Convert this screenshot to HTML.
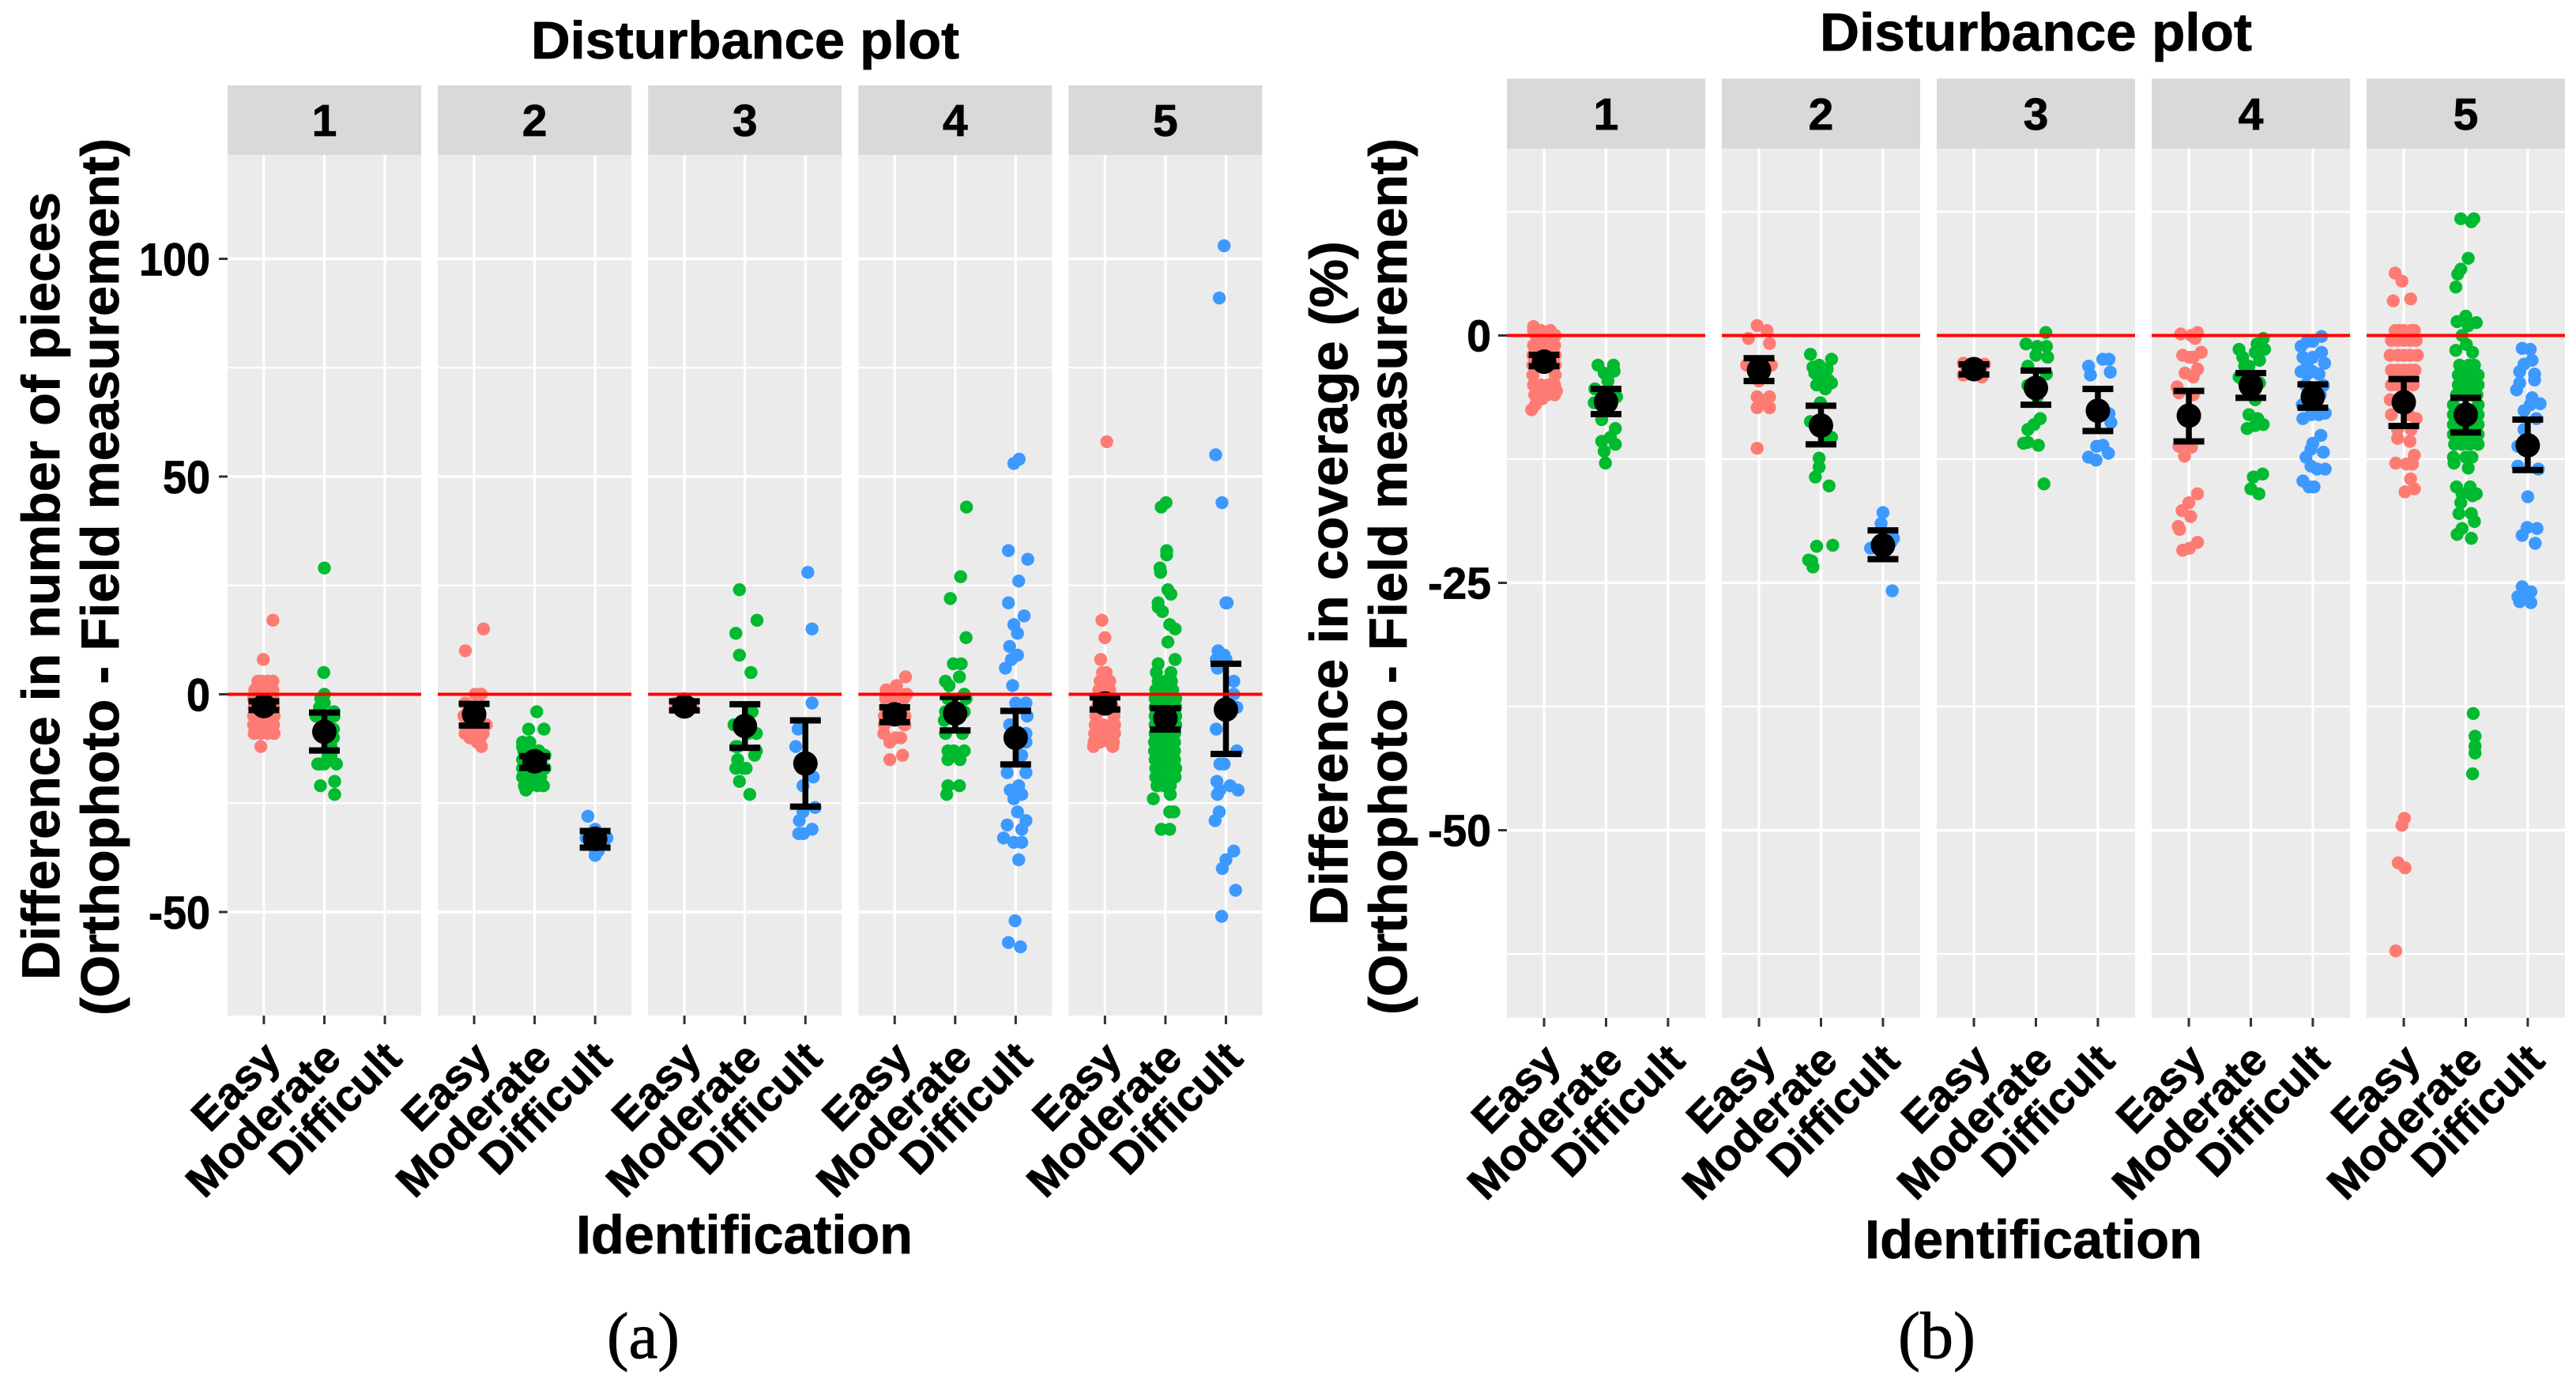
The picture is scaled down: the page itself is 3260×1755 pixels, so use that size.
<!DOCTYPE html>
<html lang="en">
<head>
<meta charset="utf-8">
<title>Disturbance plot comparison</title>
<style>
html,body{margin:0;padding:0;background:#fff;width:3260px;height:1755px;overflow:hidden}
svg{display:block}
text{font-family:"Liberation Sans",Arial,sans-serif;font-weight:bold;fill:#000;stroke:#000;stroke-width:.8px}
.serif{font-family:"Liberation Serif","Times New Roman",serif;font-weight:normal;stroke-width:.9px}
</style>
</head>
<body>
<svg id="figure" xmlns="http://www.w3.org/2000/svg" width="3260" height="1755" viewBox="0 0 3260 1755">
  <rect x="0" y="0" width="3260" height="1755" fill="#fff"/>
  <text x="672" y="74" font-size="67" textLength="542" lengthAdjust="spacingAndGlyphs">Disturbance plot</text>
  <text x="2303" y="64" font-size="68" textLength="547" lengthAdjust="spacingAndGlyphs">Disturbance plot</text>
  <text transform="translate(75,1240) rotate(-90)" font-size="68" textLength="997" lengthAdjust="spacingAndGlyphs">Difference in number of pieces</text>
  <text transform="translate(150,1285) rotate(-90)" font-size="68" textLength="1110" lengthAdjust="spacingAndGlyphs">(Orthophoto - Field measurement)</text>
  <text transform="translate(1705,1171) rotate(-90)" font-size="68" textLength="866" lengthAdjust="spacingAndGlyphs">Difference in coverage (%)</text>
  <text transform="translate(1780,1284) rotate(-90)" font-size="68" textLength="1109" lengthAdjust="spacingAndGlyphs">(Orthophoto - Field measurement)</text>
  <text x="729" y="1586" font-size="69" textLength="426" lengthAdjust="spacingAndGlyphs">Identification</text>
  <text x="2360" y="1592" font-size="69" textLength="427" lengthAdjust="spacingAndGlyphs">Identification</text>
  <text class="serif" x="768" y="1718" font-size="83" textLength="92" lengthAdjust="spacingAndGlyphs">(a)</text>
  <text class="serif" x="2402" y="1718" font-size="84" textLength="98" lengthAdjust="spacingAndGlyphs">(b)</text>
</svg>
<script>
// Shared labels
const categories=["Easy","Moderate","Difficult"];
const panelLabels=["1","2","3","4","5"];
const categoryColors=["#FE7B73","#00BA2F","#3C99FF"];

// Chart (a) axis ticks
const aTickLabels=["100","50","0","-50"];
const aMajorTicks=[100,50,0,-50];
const aMinorTicks=[75,25,-25];

// Chart (a) summaries per panel: Easy, Moderate, Difficult
const aMean=[[-2.7,-8.6,null],[-4.6,-15.4,-33.2],[-2.8,-7.3,-15.9],[-4.6,-4.4,-10],[-2.1,-5.5,-3.5]];
const aLow=[[-3.6,-12.9,null],[-7.2,-16.9,-35.2],[-3.7,-12.3,-25.8],[-6.4,-8.3,-16.1],[-3.5,-8.1,-13.7]];
const aHigh=[[-1.6,-4.2,null],[-2.2,-14.2,-31.4],[-1.6,-2.3,-6],[-3,-.6,-3.8],[-.7,-3.2,7]];

// Chart (a) points: values and horizontal jitter (category units)
const a1EasyY=[17,8,-12,3,3,3,3,1,1,1,1,-1,-1,-1,-1,-3,-3,-3,-3,-5,-5,-5,-5,-7,-7,-7,-7,-9,-9,-9,-9];
const a1EasyJ=[.15,-.01,-.05,-.1,-.03,.07,.15,-.15,-.05,.05,.15,-.17,-.06,.04,.15,-.16,-.05,.06,.16,-.17,-.05,.05,.17,-.17,-.06,.05,.16,-.16,-.05,.06,.17];
const a1ModY=[29,5,0,-1,-2,-4,-5,-5,-8,-10,-12,-14,-16,-16,-16,-21,-20,-23,-14,-16,-8,-11,-3,-6];
const a1ModJ=[0,-.01,0,-.06,0,.16,-.14,.16,.15,.15,.11,.11,-.065,0,.2,-.065,.17,.17,.06,-.11,.05,.08,-.08,0];
const a1DifY=[];
const a1DifJ=[];
const a2EasyY=[15,10,0,-2,0,-5,-7,-7,-10,-10,-12,-11,-9,-9,-9];
const a2EasyJ=[.155,-.145,.015,-.15,.12,-.17,.2,-.12,-.07,.1,.12,.05,0,.15,-.15];
const a2ModY=[-4,-8,-8,-11,-11,-13,-12,-14,-13,-13,-15,-15,-15,-15,-17,-17,-17,-17,-17,-19,-19,-19,-19,-21,-21,-21,-21,-22];
const a2ModJ=[.035,-.1,.155,-.2,-.08,.07,-.2,.17,-.18,-.07,-.2,-.1,0,.1,-.2,-.1,0,.1,.17,-.2,-.1,0,.1,-.17,-.07,.05,.145,-.145];
const a2DifY=[-28,-31,-33,-33,-33,-34,-37,-36,-35];
const a2DifJ=[-.12,0,-.15,.195,-.08,.12,0,.05,-.03];
const a3EasyY=[-2,-3,-2,-3,-1,-2];
const a3EasyJ=[-.14,.13,0,-.14,0,.1];
const a3ModY=[24,17,14,9,5,-4,-7,-9,-12,-13,-14,-15,-17,-17,-17,-20,-23,-7,-9,-12];
const a3ModJ=[-.09,.2,-.15,-.09,.1,.12,-.12,.19,-.15,.19,.16,-.12,-.15,.02,-.03,-.09,.08,-.18,.05,-.12];
const a3DifY=[28,15,-2,-8,-12,-15,-19,-21,-26,-27,-29,-31,-32,-32];
const a3DifJ=[.04,.11,.11,-.12,-.16,.06,.13,-.04,.16,-.04,-.1,.11,-.11,-.035];
const a4EasyY=[4,2,1,0,0,0,0,-1,-1,-1,-3,-3,-5,-5,-7,-7,-7,-9,-10,-11,-14,-15,-10];
const a4EasyJ=[.18,.03,-.14,.1,.2,-.14,0,-.15,-.05,.15,-.15,.13,-.17,.17,-.17,.17,.16,-.18,.1,-.08,.13,-.08,.01];
const a4ModY=[43,27,22,13,7,7,4,3,2,0,-1,-1,-4,-6,-4,-9,-9,-13,-13,-13,-15,-15,-14,-21,-21,-23];
const a4ModJ=[.187,.09,-.08,.18,-.03,.1,.07,-.16,-.1,.15,-.12,.18,-.16,-.18,.15,-.16,.12,-.12,-.02,.15,-.12,.08,-.02,-.12,.07,-.14];
const a4DifY=[54,53,33,31,26,21,18,16,14,11,9,8,6,2,-2,-2,-5,-7,-9,-11,-14,-18,-18,-21,-22,-23,-24,-27,-29,-30,-31,-33,-34,-34,-38,-52,-57,-58];
const a4DifJ=[.057,-.03,-.12,.2,.05,-.12,.14,-.03,.03,-.1,.03,-.07,-.17,-.05,0,.17,.19,-.1,.17,.17,.1,-.14,.17,.05,-.09,.1,-.03,.03,.17,-.14,.1,-.2,-.03,.1,.05,-.01,-.12,.08];
const a5EasyY=[58,17,13,8,5,5,3,3,3,1,1,1,-1,-1,-1,-3,-3,-5,-5,-7,-7,-7,-7,-9,-9,-9,-9,-11,-11,-11,-11,-12,-12];
const a5EasyJ=[.03,-.05,0,-.07,-.04,.02,-.08,.03,.08,-.1,-.02,.08,-.12,-.03,.1,-.13,.13,-.15,.15,-.16,-.03,.1,.16,-.17,-.06,.05,.16,-.18,-.08,.08,.14,-.19,.13];
const a5ModY=[44,43,33,29,32,28,24,23,21,20,19,16,15,12,8,7,5,5,3,3,3,1,1,1,1,-1,-1,-1,-1,-3,-3,-3,-3,-5,-5,-5,-5,-7,-7,-7,-7,-9,-9,-9,-9,-11,-11,-11,-11,-13,-13,-13,-13,-15,-15,-15,-15,-17,-17,-17,-17,-19,-19,-19,-19,-21,-21,-21,-23,-24,-27,-27,-31,-31];
const a5ModJ=[.01,-.07,.02,-.09,.02,-.08,.04,.09,-.12,-.12,-.05,.07,.16,.04,.16,-.12,-.15,.09,-.12,0,.1,-.16,-.05,.05,.12,-.17,-.06,.06,.17,-.17,-.06,.06,.17,-.17,-.05,.05,.17,-.17,-.05,.05,.17,-.17,-.05,.05,.15,-.18,-.06,.05,.15,-.18,-.06,.05,.15,-.17,-.05,.05,.15,-.16,-.05,.05,.17,-.16,-.05,.05,.16,-.14,-.03,.08,.08,-.2,.07,.14,-.07,.07];
const a5DifY=[103,91,55,44,21,21,10,9,8,8,6,3,0,-3,-8,-13,-16,-16,-20,-22,-21,-22,-23,-27,-29,-36,-38,-40,-45,-51];
const a5DifJ=[-.03,-.11,-.17,-.065,0,.02,-.13,-.03,-.16,0,-.14,.13,.13,.18,-.16,.18,-.1,-.03,-.15,-.1,.07,.2,-.14,-.11,-.18,.13,0,-.06,.16,-.07];

// Chart (b) axis ticks
const bTickLabels=["0","-25","-50"];
const bMajorTicks=[0,-25,-50];
const bMinorTicks=[12.5,-12.5,-37.5,-62.5];

// Chart (b) summaries per panel
const bMean=[[-2.65,-6.7,null],[-3.5,-9.1,-21.2],[-3.4,-5.3,-7.6],[-8.1,-5.05,-6.2],[-6.75,-8,-11.1]];
const bLow=[[-3.1,-7.95,null],[-4.6,-11,-22.6],[-3.93,-7,-9.65],[-10.7,-6.3,-7.3],[-9.15,-9.8,-13.6]];
const bHigh=[[-1.96,-5.4,null],[-2.3,-7.1,-19.7],[-2.92,-3.54,-5.4],[-5.6,-3.8,-4.94],[-4.4,-6.3,-8.5]];

// Chart (b) points
const b1EasyY=[.9,.5,.5,.5,0,0,0,0,-1,-1,-1,-1,-2,-2,-3,-3,-4,-4,-5,-5,-5,-5,-6,-6,-6,-6,-7.5,-6.4,-5.6,-7,-2,-3];
const b1EasyJ=[-.17,-.17,-.05,.1,-.13,0,.1,.18,-.17,-.07,.05,.17,-.18,.18,-.18,.18,-.18,.18,-.17,-.05,.07,.17,-.15,-.05,.05,.17,-.2,-.03,.2,-.14,-.06,.07];
const b1ModY=[-3,-3,-3.8,-3.6,-4.6,-5.4,-6.2,-6.8,-8.5,-9.4,-10.3,-10.7,-11,-11.7,-12.9,-6.8,-7.6];
const b1ModJ=[-.13,.12,-.03,.13,.03,-.18,.17,-.19,-.07,.15,.07,-.07,.15,-.03,-.01,.03,-.03];
const b1DifY=[];
const b1DifJ=[];
const b2EasyY=[1,.5,-.3,-.8,-3,-3,-4.6,-6.2,-6.2,-7.3,-7.3,-6.6,-11.4];
const b2EasyJ=[-.03,.13,-.17,.17,-.2,.2,0,-.03,.17,-.03,.17,.07,-.03];
const b2ModY=[-1.9,-2.4,-3.2,-3,-3.4,-4.2,-3.8,-4.8,-5.4,-6.8,-8.7,-10.3,-10.6,-12.4,-13.3,-14.3,-15.2,-21.3,-21.2,-22.7,-23.4,-22.8,-5,-4.5];
const b2ModJ=[-.17,.17,-.13,-.03,.1,0,-.1,.17,.07,-.01,-.17,.17,.07,-.03,-.03,-.09,.13,-.07,.19,-.2,-.13,-.15,-.07,.12];
const b2DifY=[-17.9,-19,-20.5,-21.5,-21.3,-21.5,-25.8,-20.9];
const b2DifJ=[0,-.03,.17,-.2,-.13,0,.15,.13];
const b3EasyY=[-2.8,-4,-2.9,-4.2,-3.3];
const b3EasyJ=[-.17,-.17,.17,.13,0];
const b3ModY=[.3,-.85,-1.1,-1.1,-2,-2.2,-3.1,-3.9,-5.05,-6.2,-8.4,-9,-9.5,-10.9,-10.8,-11.1,-15];
const b3ModJ=[.16,-.16,.02,.17,0,.19,-.13,.17,-.13,.02,.07,-.03,-.13,-.2,-.13,.04,.13];
const b3DifY=[-3.1,-2.4,-2.4,-4,-3.7,-7.9,-8.8,-11.1,-11.2,-11.9,-12.3,-12.6];
const b3DifJ=[-.15,.08,.18,-.12,.2,.18,.21,.08,-.02,.17,-.15,-.03];
const b4EasyY=[.15,0,.3,-.3,-2,-2.2,-1.7,-2.2,-3.4,-3.8,-4.2,-5.2,-5.8,-6,-11.2,-11.3,-12.2,-16,-16.9,-17.7,-18.3,-19.3,-19.6,-20.9,-21.5,-21.7];
const b4EasyJ=[-.13,.04,.14,.1,-.1,.07,.2,.01,.14,-.06,.07,-.19,-.16,.07,-.16,.04,-.07,.14,0,-.11,.03,-.17,-.15,.14,.01,-.1];
const b4ModY=[-.3,-.85,-1.4,-1.4,-1.7,-2.2,-2.5,-3.1,-3.1,-4.2,-4.8,-4.5,-6.5,-8,-8.4,-9,-9.1,-9.4,-14,-14.3,-15.5,-16];
const b4ModJ=[.2,.1,-.19,.22,.07,-.13,.14,-.03,-.1,-.19,.14,-.13,.07,-.03,.11,.2,.07,-.06,.19,.04,0,.13];
const b4DifY=[-.1,-1.1,-.6,-.6,-1.7,-2.8,-2.2,-2.8,-2.2,-3.65,-3.9,-3.65,-3.9,-5.05,-8.4,-8,-8,-7.85,-10.1,-10.9,-11.8,-11.5,-12.3,-13.2,-13.5,-13.5,-14.7,-15.3,-15.3,-5,-6,-7];
const b4DifJ=[.14,-.19,-.09,0,.14,.19,-.16,-.09,0,-.19,-.09,0,.1,.17,-.16,-.03,.1,.2,.13,0,.17,-.03,-.11,-.03,.2,.07,-.16,-.06,.02,-.12,.12,-.17];
const b5EasyY=[6.3,5.5,3.7,3.5,.5,.5,.5,.5,.5,-.5,-.5,-.5,-.5,-.5,-2,-2,-2,-2,-2,-3.5,-3.5,-3.5,-3.5,-3.5,-5,-5,-5,-5,-6.5,-8.4,-8,-8,-9.5,-9.5,-10.7,-10.4,-12.1,-12.9,-13,-13,-14.5,-15.5,-15.8,-48.8,-49.5,-53.3,-53.8,-62.2];
const b5EasyJ=[-.14,-.03,.11,-.17,-.14,-.07,0,.12,.17,-.2,-.1,0,.1,.2,-.22,-.1,0,.1,.22,-.2,-.1,0,.1,.18,-.2,-.1,.05,.15,-.22,.2,-.2,.08,-.1,.12,.1,-.1,.17,-.13,.04,.14,.11,.17,.02,.01,-.03,-.09,.02,-.13];
const b5ModY=[11.8,11.8,11.5,7.8,6.7,6.2,4.9,1.95,1.4,1.3,1,0,-.9,-1.5,-1.7,-3,-3,-3,-4,-4,-4,-4,-5,-5,-5,-5,-6,-6,-6,-6,-7,-7,-8,-8,-9,-9,-9,-9,-10,-10,-10,-10,-10,-11,-11,-11,-11,-12.3,-12.3,-12.3,-12.9,-13.4,-15.3,-15.3,-16,-16,-16.2,-16.9,-18,-18,-18.8,-19.5,-20.1,-20.5,-38.2,-40.5,-41.5,-42.2,-44.3];
const b5ModJ=[-.08,.13,.09,.04,-.08,-.13,-.16,0,-.14,.17,.04,-.06,.01,-.16,.11,-.1,.05,.14,-.12,-.03,.1,.2,-.12,-.02,.1,.2,-.15,-.05,.1,.18,-.2,.2,-.2,.2,-.2,-.1,.1,.2,-.2,-.1,0,.1,.2,-.18,-.06,.06,.2,-.2,0,.1,-.19,.04,-.15,.07,-.06,.17,.11,-.08,.09,-.11,.14,-.06,-.14,.09,.12,.15,.15,.15,.11];
const b5DifY=[-1.3,-1.4,-2.5,-2.9,-3.65,-3.9,-4.5,-4.8,-5.5,-6.3,-6.9,-7,-7.6,-8.4,-9.5,-11.2,-10.9,-13.2,-13.5,-16.3,-19.4,-19.5,-20.2,-21,-25.4,-26.4,-25.9,-26.9,-27,-26.4];
const b5DifJ=[-.09,.04,.07,-.06,-.13,.11,.11,-.13,-.18,.07,.2,.04,-.06,.14,-.06,-.16,.07,-.16,.17,0,-.01,.15,-.09,.12,-.09,-.16,.05,-.13,.05,-.04];

const SVGNS="http://www.w3.org/2000/svg";
const figure=document.getElementById("figure");
function mk(tag,attrs,parent){
  const el=document.createElementNS(SVGNS,tag);
  for(const k in attrs){el.setAttribute(k,attrs[k]);}
  (parent||figure).appendChild(el);
  return el;
}
function labelWidth(s,fs,squeeze){
  let w=0;
  for(const c of s){w+=(c==="-"?0.333:0.556);}
  return w*fs*squeeze;
}

function drawChart(cfg){
  const xScale=(panel,cat,jit)=>cfg.left+panel*cfg.pitch+(cat+0.6+(jit||0))*cfg.width/3.2;
  const yScale=v=>cfg.y0-v*cfg.k;
  const root=mk("g",{});
  
  

  // y tick marks and labels
  cfg.major.forEach((v,i)=>{
    const tick=mk("line",{x1:cfg.left-11,x2:cfg.left,y1:yScale(v),y2:yScale(v),stroke:"#333",'stroke-width':3},root);
    
    
    const s=cfg.labels[i];
    const t=mk("text",{x:cfg.left-cfg.labelGap-labelWidth(s,cfg.tickFont,cfg.tickSqueeze),y:yScale(v)+cfg.tickBase,'font-size':cfg.tickFont,textLength:labelWidth(s,cfg.tickFont,cfg.tickSqueeze),lengthAdjust:"spacingAndGlyphs"},root);
    t.textContent=s;
    
    
  });

  panelLabels.forEach((label,p)=>{
    const px=cfg.left+p*cfg.pitch;
    const g=mk("g",{},root);
    
    

    const strip=mk("rect",{x:px,y:cfg.stripTop,width:cfg.width,height:cfg.top-cfg.stripTop,fill:"#D9D9D9"},g);
    
    
    const st=mk("text",{x:px+cfg.width/2,y:(cfg.stripTop+cfg.top)/2+20,'font-size':57,'text-anchor':"middle"},g);
    st.textContent=label;
    
    

    const bg=mk("rect",{x:px,y:cfg.top,width:cfg.width,height:cfg.bottom-cfg.top,fill:"#EBEBEB"},g);
    
    

    cfg.minor.forEach(v=>{
      const gl=mk("line",{x1:px,x2:px+cfg.width,y1:yScale(v),y2:yScale(v),stroke:"#fff",'stroke-width':2.2},g);
      
      
    });
    cfg.major.forEach(v=>{
      const gl=mk("line",{x1:px,x2:px+cfg.width,y1:yScale(v),y2:yScale(v),stroke:"#fff",'stroke-width':3.4},g);
      
      
    });
    categories.forEach((c,ci)=>{
      const gx=xScale(p,ci,0);
      const gl=mk("line",{x1:gx,x2:gx,y1:cfg.top,y2:cfg.bottom,stroke:"#fff",'stroke-width':3.2},g);
      
      
      const tick=mk("line",{x1:gx,x2:gx,y1:cfg.bottom,y2:cfg.bottom+11,stroke:"#333",'stroke-width':3},g);
      
      
      const ax=gx+cfg.xLabelDx,ay=cfg.xLabelY;
      const t=mk("text",{x:ax,y:ay,'font-size':56,'text-anchor':"end",transform:"rotate(-45 "+ax+" "+ay+")"},g);
      t.textContent=c;
      
      
    });

    // points
    categories.forEach((c,ci)=>{
      const series=cfg.series[p][ci];
      const ys=series[0],js=series[1];
      const pg=mk("g",{},g);
      
      
      ys.forEach((v,i)=>{
        const dot=mk("circle",{cx:xScale(p,ci,js[i]||0),cy:yScale(v),r:8.2,fill:categoryColors[ci]},pg);
        
        
      });
    });

    // error bars and means
    categories.forEach((c,ci)=>{
      const m=cfg.mean[p][ci];
      if(m===null){return;}
      const cx=xScale(p,ci,0),lo=cfg.low[p][ci],hi=cfg.high[p][ci];
      const stem=mk("line",{x1:cx,x2:cx,y1:yScale(hi),y2:yScale(lo),stroke:"#000",'stroke-width':7.5},g);
      
      
      [lo,hi].forEach(b=>{
        const cap=mk("line",{x1:cx-19.5,x2:cx+19.5,y1:yScale(b),y2:yScale(b),stroke:"#000",'stroke-width':8},g);
        
        
      });
      const dot=mk("circle",{cx:cx,cy:yScale(m),r:15.5,fill:"#000"},g);
      
      
    });

    const ref=mk("line",{x1:px,x2:px+cfg.width,y1:yScale(0),y2:yScale(0),stroke:"#FF0000",'stroke-width':4},g);
    
    
  });
}

drawChart({
  id:"chart-a",left:288,pitch:266.1,width:245,stripTop:108,top:196,bottom:1285,y0:878.5,k:5.51,
  major:aMajorTicks,minor:aMinorTicks,labels:aTickLabels,mean:aMean,low:aLow,high:aHigh,
  tickFont:58,tickSqueeze:.93,tickBase:21,labelGap:22,xLabelDx:24,xLabelY:1342,
  series:[
    [[a1EasyY,a1EasyJ],[a1ModY,a1ModJ],[a1DifY,a1DifJ]],
    [[a2EasyY,a2EasyJ],[a2ModY,a2ModJ],[a2DifY,a2DifJ]],
    [[a3EasyY,a3EasyJ],[a3ModY,a3ModJ],[a3DifY,a3DifJ]],
    [[a4EasyY,a4EasyJ],[a4ModY,a4ModJ],[a4DifY,a4DifJ]],
    [[a5EasyY,a5EasyJ],[a5ModY,a5ModJ],[a5DifY,a5DifJ]]
  ]
});
drawChart({
  id:"chart-b",left:1907,pitch:272,width:251,stripTop:99.5,top:188,bottom:1288,y0:424.5,k:12.52,
  major:bMajorTicks,minor:bMinorTicks,labels:bTickLabels,mean:bMean,low:bLow,high:bHigh,
  tickFont:57,tickSqueeze:.97,tickBase:20,labelGap:20,xLabelDx:24,xLabelY:1345,
  series:[
    [[b1EasyY,b1EasyJ],[b1ModY,b1ModJ],[b1DifY,b1DifJ]],
    [[b2EasyY,b2EasyJ],[b2ModY,b2ModJ],[b2DifY,b2DifJ]],
    [[b3EasyY,b3EasyJ],[b3ModY,b3ModJ],[b3DifY,b3DifJ]],
    [[b4EasyY,b4EasyJ],[b4ModY,b4ModJ],[b4DifY,b4DifJ]],
    [[b5EasyY,b5EasyJ],[b5ModY,b5ModJ],[b5DifY,b5DifJ]]
  ]
});
</script>
</body>
</html>
